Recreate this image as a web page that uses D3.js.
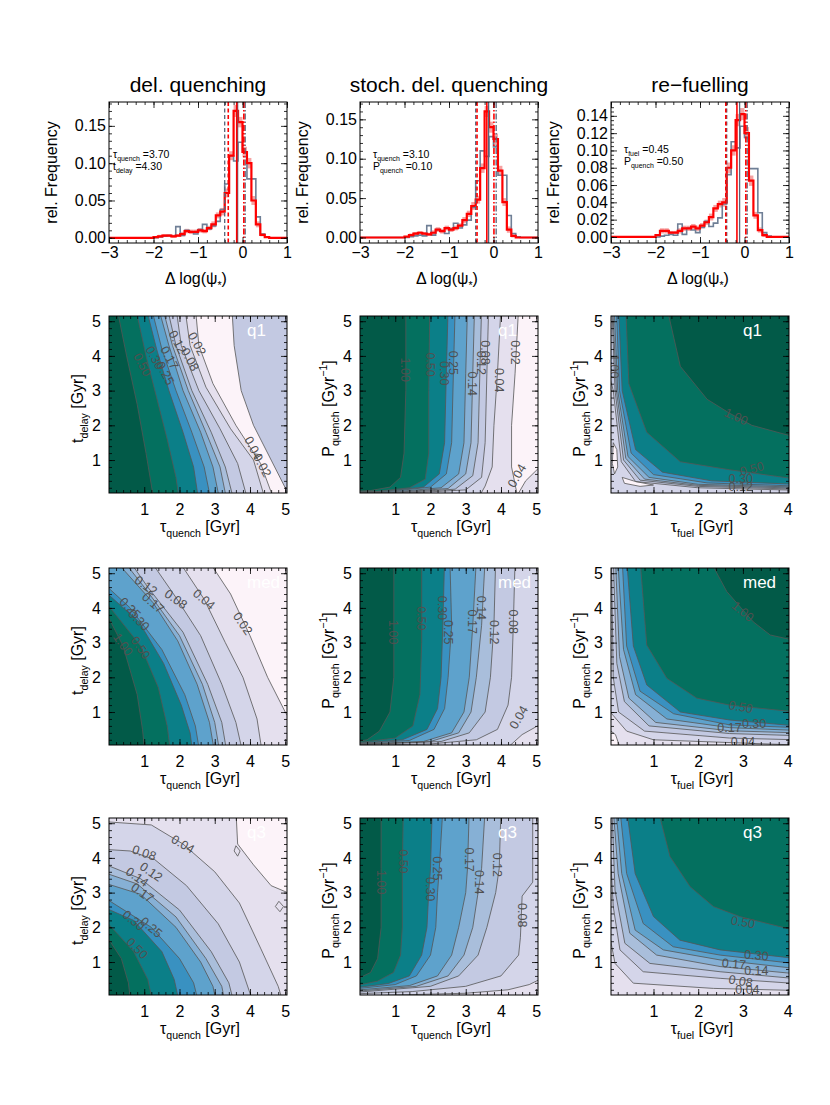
<!DOCTYPE html>
<html>
<head>
<meta charset="utf-8">
<script src="https://cdn.jsdelivr.net/npm/d3@7"></script>
<style>
body { margin: 0; background: #fff; }
text { font-family: "Liberation Sans", Arial, Helvetica, sans-serif; }
</style>
</head>
<body>
<div id="chart"></div>
<script>
var width = 830, height = 1105;

// contour levels and the band colours (lowest band first)
var levels = [0.02, 0.04, 0.08, 0.12, 0.14, 0.17, 0.25, 0.30, 0.50, 1.00];
var bandColors = ["#fcf3f9", "#e5e0ee", "#d4d5e9", "#c3c9e2", "#a9bedb", "#86b0d5",
    "#5ea2cc", "#3991c1", "#0b7f88", "#04705f", "#025a48"];

// histograms: left bin edges, bin width 0.1
var binLeft = [-2.1, -2.0, -1.9, -1.8, -1.7, -1.6, -1.5, -1.4, -1.3, -1.2, -1.1, -1.0, -0.9, -0.8,
    -0.7, -0.6, -0.5, -0.4, -0.3, -0.2, -0.1, 0.0, 0.1, 0.2, 0.3, 0.4, 0.5, 0.6];
var obsFreq = [0, 0, 0.001, 0.002, 0.003, 0.002, 0.015, 0.003, 0.010, 0.008, 0.005, 0.011, 0.018, 0.012,
    0.016, 0.022, 0.038, 0.072, 0.110, 0.103, 0.128, 0.115, 0.079, 0.079, 0.028, 0.005, 0.001, 0];
var delFreq = [0, 0.001, 0.002, 0.003, 0.003, 0.002, 0.003, 0.005, 0.009, 0.008, 0.008, 0.010, 0.009, 0.013,
    0.018, 0.030, 0.035, 0.060, 0.110, 0.170, 0.155, 0.115, 0.100, 0.050, 0.018, 0.004, 0.001, 0];
var delErr = [0, 0.001, 0.002, 0.002, 0.002, 0.002, 0.002, 0.003, 0.003, 0.003, 0.003, 0.003, 0.003, 0.003,
    0.004, 0.004, 0.005, 0.006, 0.006, 0.008, 0.007, 0.007, 0.007, 0.006, 0.004, 0.002, 0.001, 0];
var stoFreq = [0, 0.001, 0.003, 0.005, 0.006, 0.005, 0.004, 0.006, 0.010, 0.008, 0.012, 0.010, 0.012, 0.015,
    0.022, 0.030, 0.040, 0.048, 0.088, 0.160, 0.140, 0.125, 0.085, 0.045, 0.010, 0.002, 0, 0];
var stoErr = [0, 0.001, 0.002, 0.002, 0.002, 0.002, 0.002, 0.003, 0.003, 0.003, 0.003, 0.003, 0.003, 0.003,
    0.004, 0.004, 0.005, 0.005, 0.006, 0.007, 0.007, 0.007, 0.006, 0.005, 0.004, 0.002, 0, 0];
var refFreq = [0, 0.002, 0.007, 0.007, 0.005, 0.005, 0.007, 0.010, 0.010, 0.012, 0.010, 0.013, 0.017, 0.023,
    0.033, 0.038, 0.040, 0.080, 0.100, 0.135, 0.142, 0.120, 0.065, 0.025, 0.008, 0.002, 0, 0];
var refErr = [0, 0.001, 0.003, 0.003, 0.002, 0.002, 0.003, 0.003, 0.003, 0.003, 0.003, 0.003, 0.003, 0.004,
    0.004, 0.004, 0.005, 0.006, 0.006, 0.007, 0.007, 0.007, 0.006, 0.004, 0.003, 0.002, 0, 0];

// 16th percentile, median, 84th percentile
var obsMarks = [-0.40, -0.11, 0.06];
var delMarks = [-0.32, -0.13, 0.03];
var stoMarks = [-0.37, -0.15, 0.01];
var refMarks = [-0.42, -0.17, 0.03];

// contour lines [level, points], points run across the panel
var cDelQ1 = [
    [0.02, [[2.45, 5.4], [2.55, 4.3], [2.95, 3.2], [3.6, 2.0], [4.3, 0.9], [4.7, -0.2]]],
    [0.04, [[2.15, 5.4], [2.3, 4.3], [2.75, 3.1], [3.45, 1.9], [4.1, 1.0], [4.45, -0.2]]],
    [0.08, [[1.9, 5.4], [2.05, 4.3], [2.55, 3.0], [3.15, 1.9], [3.65, 0.9], [3.95, -0.2]]],
    [0.12, [[1.65, 5.4], [1.9, 4.3], [2.35, 3.0], [2.9, 1.8], [3.3, 0.8], [3.55, -0.2]]],
    [0.14, [[1.52, 5.4], [1.8, 4.3], [2.25, 3.0], [2.75, 1.8], [3.15, 0.8], [3.35, -0.2]]],
    [0.17, [[1.4, 5.4], [1.7, 4.3], [2.1, 3.0], [2.6, 1.8], [2.95, 0.8], [3.15, -0.2]]],
    [0.25, [[1.2, 5.4], [1.5, 4.2], [1.9, 3.0], [2.35, 1.8], [2.7, 0.8], [2.9, -0.2]]],
    [0.30, [[1.05, 5.4], [1.35, 4.2], [1.7, 3.0], [2.1, 1.8], [2.4, 0.8], [2.55, -0.2]]],
    [0.50, [[0.75, 5.4], [1.05, 4.0], [1.35, 2.8], [1.65, 1.6], [1.9, 0.5], [2.0, -0.2]]],
    [1.00, [[0.22, 5.4], [0.5, 4.0], [0.8, 2.6], [1.05, 1.2], [1.28, -0.2]]]
];
var xDelQ1 = [[3, [[3.45, 6], [3.55, 4.3], [3.75, 3.0], [4.1, 2.0], [4.6, 1.0], [5.0, 0.2], [5.2, -1], [6, -1], [6, 6]]]];
var lDelQ1 = [["0.50", 0.95, 3.75, 62], ["0.30", 1.3, 3.95, 62], ["0.25", 1.6, 3.5, 62], ["0.17", 1.72, 3.95, 62],
    ["0.12", 1.95, 4.4, 62], ["0.08", 2.3, 3.9, 62], ["0.02", 2.5, 4.35, 62], ["0.04", 4.1, 1.35, 62], ["0.02", 4.35, 0.85, 62]];

var cDelMed = [
    [0.02, [[2.8, 5.4], [3.45, 4.4], [4.0, 3.2], [4.5, 2.0], [5.0, 1.0], [5.3, 0.5]]],
    [0.04, [[1.95, 5.4], [2.7, 4.25], [3.3, 3.0], [3.8, 2.0], [4.2, 0.8], [4.35, -0.2]]],
    [0.08, [[1.15, 5.4], [1.9, 4.3], [2.6, 3.2], [3.2, 1.8], [3.6, 0.7], [3.8, -0.2]]],
    [0.12, [[0.55, 5.4], [1.1, 4.6], [2.1, 3.3], [2.8, 1.8], [3.2, 0.7], [3.35, -0.2]]],
    [0.14, [[0.38, 5.4], [1.15, 4.4], [2.0, 3.2], [2.65, 1.8], [3.0, 0.7], [3.15, -0.2]]],
    [0.17, [[0.15, 5.4], [1.25, 4.15], [1.95, 3.05], [2.5, 1.8], [2.85, 0.7], [3.0, -0.2]]],
    [0.25, [[-0.2, 4.75], [0.6, 4.0], [1.5, 2.8], [2.15, 1.5], [2.45, 0.6], [2.58, -0.2]]],
    [0.30, [[-0.2, 4.55], [0.85, 3.6], [1.55, 2.4], [2.05, 1.2], [2.3, 0.4], [2.38, -0.2]]],
    [0.50, [[-0.2, 4.3], [0.9, 2.9], [1.4, 1.7], [1.65, 0.6], [1.75, -0.2]]],
    [1.00, [[-0.2, 4.1], [0.4, 2.9], [0.8, 1.5], [0.95, 0.5], [1.02, -0.2]]]
];
var lDelMed = [["1.00", 0.4, 2.95, 55], ["0.50", 0.9, 2.85, 55], ["0.30", 0.85, 3.65, 45], ["0.25", 0.6, 4.0, 45],
    ["0.17", 1.25, 4.15, 40], ["0.12", 1.05, 4.65, 35], ["0.08", 1.9, 4.25, 35], ["0.04", 2.7, 4.25, 40], ["0.02", 3.8, 3.55, 55]];

var cDelQ3 = [
    [0.02, [[3.6, 5.4], [3.65, 4.4], [4.1, 3.8], [4.6, 3.2], [5.3, 2.9]]],
    [0.04, [[-0.2, 5.05], [1.2, 4.95], [2.1, 4.4], [3.0, 3.6], [3.7, 2.7], [4.3, 1.4], [4.8, 0.3], [4.95, -0.2]]],
    [0.08, [[-0.2, 4.25], [0.6, 4.2], [1.3, 3.95], [2.2, 3.2], [3.1, 2.1], [3.7, 1.0], [4.0, 0.1], [4.05, -0.2]]],
    [0.12, [[-0.2, 3.85], [0.9, 3.4], [2.0, 2.5], [2.9, 1.3], [3.4, 0.4], [3.55, -0.2]]],
    [0.14, [[-0.2, 3.6], [0.8, 3.25], [1.9, 2.3], [2.75, 1.1], [3.2, 0.3], [3.3, -0.2]]],
    [0.17, [[-0.2, 3.3], [0.9, 2.95], [1.9, 2.0], [2.6, 1.0], [2.95, 0.3], [3.05, -0.2]]],
    [0.25, [[-0.2, 2.9], [1.2, 2.0], [2.0, 1.1], [2.4, 0.4], [2.55, -0.2]]],
    [0.30, [[-0.2, 2.6], [0.7, 2.2], [1.5, 1.3], [1.85, 0.5], [2.0, -0.2]]],
    [0.50, [[-0.2, 2.3], [0.7, 1.3], [1.1, 0.5], [1.25, -0.2]]],
    [1.00, [[-0.2, 1.95], [0.35, 1.1], [0.55, 0.4], [0.62, -0.2]]]
];
var xDelQ3 = [[1, [[3.6, 4.35], [3.72, 4.2], [3.65, 4.05], [3.55, 4.2]]], [1, [[4.82, 2.75], [4.95, 2.6], [4.85, 2.45], [4.72, 2.6]]]];
var lDelQ3 = [["0.04", 2.1, 4.4, 30], ["0.08", 1.0, 4.15, 20], ["0.12", 1.2, 3.6, 35], ["0.14", 0.8, 3.45, 35],
    ["0.17", 0.95, 3.0, 35], ["0.30", 0.7, 2.2, 40], ["0.25", 1.2, 2.0, 40], ["0.50", 0.8, 1.4, 45]];

var cStoQ1 = [
    [0.02, [[4.5, 5.4], [4.4, 3.5], [4.3, 2.0], [4.3, 0.8], [4.4, 0.3], [4.5, -0.2]]],
    [0.04, [[4.0, 5.4], [3.9, 3.5], [3.8, 2.0], [3.75, 0.8], [3.55, 0.25], [3.3, -0.2]]],
    [0.08, [[3.65, 5.4], [3.6, 3.5], [3.55, 1.5], [3.45, 0.5], [3.0, 0.14], [1.2, 0.04], [-0.2, 0.02]]],
    [0.12, [[3.45, 5.4], [3.4, 3.5], [3.35, 1.5], [3.2, 0.55], [2.7, 0.16], [1.0, 0.05], [-0.2, 0.03]]],
    [0.14, [[3.25, 5.4], [3.2, 3.5], [3.15, 1.5], [3.0, 0.6], [2.5, 0.18], [0.9, 0.06], [-0.2, 0.04]]],
    [0.17, [[3.05, 5.4], [3.0, 3.5], [2.95, 1.5], [2.8, 0.6], [2.3, 0.2], [0.8, 0.07], [-0.2, 0.05]]],
    [0.25, [[2.7, 5.4], [2.65, 3.5], [2.6, 1.5], [2.45, 0.6], [2.0, 0.22], [0.7, 0.08], [-0.2, 0.06]]],
    [0.30, [[2.5, 5.4], [2.45, 3.5], [2.4, 1.5], [2.25, 0.6], [1.8, 0.22], [0.6, 0.09], [-0.2, 0.07]]],
    [0.50, [[1.98, 5.4], [1.95, 3.0], [1.95, 1.2], [1.85, 0.45], [1.4, 0.2], [0.5, 0.1], [-0.2, 0.08]]],
    [1.00, [[1.3, 5.4], [1.3, 3.0], [1.25, 1.2], [1.15, 0.5], [0.85, 0.22], [0.3, 0.12], [-0.2, 0.1]]]
];
var xStoQ1 = [[1, [[3.9, -1], [4.7, 0.4], [5.2, 0.9], [6, 1.2], [6, -1]]]];
var lStoQ1 = [["1.00", 1.28, 3.6, 90], ["0.50", 2.0, 3.75, 90], ["0.30", 2.4, 3.5, 90], ["0.25", 2.65, 3.8, 90],
    ["0.14", 3.2, 3.2, 90], ["0.12", 3.45, 3.8, 90], ["0.08", 3.57, 4.1, 90], ["0.04", 3.95, 3.3, 90],
    ["0.02", 4.42, 4.1, 90], ["0.04", 4.45, 0.55, -60]];

var cStoMed = [
    [0.04, [[5.3, 0.75], [4.6, 0.35], [4.0, -0.2]]],
    [0.08, [[4.4, 5.4], [4.35, 3.5], [4.3, 2.0], [4.2, 1.2], [3.9, 0.5], [3.3, 0.2], [2.0, 0.08], [-0.2, 0.04]]],
    [0.12, [[3.85, 5.4], [3.8, 3.5], [3.7, 2.0], [3.55, 1.0], [3.1, 0.4], [2.3, 0.15], [-0.2, 0.05]]],
    [0.14, [[3.55, 5.4], [3.45, 3.5], [3.3, 2.0], [3.15, 1.0], [2.8, 0.4], [2.0, 0.15], [-0.2, 0.06]]],
    [0.17, [[3.3, 5.4], [3.2, 3.5], [3.1, 2.0], [2.95, 1.0], [2.6, 0.4], [1.8, 0.15], [-0.2, 0.07]]],
    [0.25, [[2.55, 5.4], [2.6, 3.5], [2.5, 2.0], [2.4, 1.1], [2.1, 0.5], [1.4, 0.18], [-0.2, 0.08]]],
    [0.30, [[2.4, 5.4], [2.35, 3.5], [2.3, 2.0], [2.2, 1.1], [1.9, 0.5], [1.2, 0.2], [-0.2, 0.09]]],
    [0.50, [[1.75, 5.4], [1.75, 3.0], [1.7, 1.5], [1.5, 0.6], [1.0, 0.25], [-0.2, 0.1]]],
    [1.00, [[0.96, 5.4], [0.96, 2.0], [0.85, 1.0], [0.55, 0.45], [0.2, 0.2], [-0.2, 0.12]]]
];
var lStoMed = [["1.00", 0.96, 3.3, 90], ["0.50", 1.75, 3.7, 90], ["0.30", 2.35, 4.0, 90], ["0.25", 2.5, 3.3, 90],
    ["0.17", 3.2, 3.6, 90], ["0.14", 3.45, 4.0, 90], ["0.12", 3.8, 3.3, 90], ["0.08", 4.35, 3.6, 90], ["0.04", 4.5, 0.85, -60]];

var cStoQ3 = [
    [0.04, [[5.3, 0.6], [4.8, 0.35], [4.2, 0.2], [3.0, 0.1], [1.0, 0.05], [-0.2, 0.0]]],
    [0.08, [[4.9, 5.4], [4.9, 3.3], [4.6, 2.9], [4.55, 1.7], [4.5, 1.2], [4.0, 0.6], [3.0, 0.3], [1.5, 0.15], [-0.2, 0.08]]],
    [0.12, [[4.0, 5.4], [3.95, 3.7], [3.85, 3.0], [3.6, 2.0], [3.35, 1.2], [2.8, 0.6], [2.0, 0.3], [-0.2, 0.12]]],
    [0.14, [[3.55, 5.4], [3.45, 3.7], [3.35, 3.0], [3.2, 2.0], [2.95, 1.2], [2.5, 0.6], [1.6, 0.3], [-0.2, 0.15]]],
    [0.17, [[3.1, 5.4], [3.05, 3.7], [3.0, 3.0], [2.8, 2.0], [2.6, 1.2], [2.2, 0.6], [1.4, 0.32], [-0.2, 0.18]]],
    [0.25, [[2.35, 5.4], [2.25, 3.7], [2.2, 3.0], [2.15, 2.0], [2.0, 1.2], [1.6, 0.6], [1.0, 0.35], [-0.2, 0.22]]],
    [0.30, [[2.05, 5.4], [2.0, 3.7], [1.95, 3.0], [1.9, 2.0], [1.75, 1.2], [1.4, 0.6], [0.8, 0.38], [-0.2, 0.25]]],
    [0.50, [[1.23, 5.4], [1.2, 3.7], [1.2, 2.0], [1.15, 1.2], [0.95, 0.7], [0.5, 0.45], [-0.2, 0.3]]],
    [1.00, [[0.6, 5.4], [0.6, 3.7], [0.6, 2.0], [0.5, 1.1], [0.3, 0.7], [-0.2, 0.45]]]
];
var lStoQ3 = [["1.00", 0.6, 3.3, 90], ["0.50", 1.23, 3.9, 90], ["0.30", 2.0, 3.1, 90], ["0.25", 2.2, 3.7, 90],
    ["0.17", 3.1, 3.95, 90], ["0.14", 3.4, 3.3, 90], ["0.12", 3.9, 3.8, 90], ["0.08", 4.6, 2.35, 90]];

var cRefQ1 = [
    [0.08, [[-0.2, 4.5], [0.1, 3.0], [0.28, 0.95], [0.6, 0.38], [2.0, 0.2], [4.2, 0.13]]],
    [0.12, [[0.07, 5.4], [0.14, 3.0], [0.33, 1.0], [0.7, 0.42], [2.0, 0.24], [4.2, 0.16]]],
    [0.14, [[0.09, 5.4], [0.17, 3.0], [0.38, 1.05], [0.8, 0.45], [2.0, 0.27], [4.2, 0.19]]],
    [0.17, [[0.12, 5.4], [0.2, 3.0], [0.43, 1.1], [0.9, 0.5], [2.0, 0.3], [4.2, 0.22]]],
    [0.25, [[0.17, 5.4], [0.24, 3.0], [0.5, 1.2], [1.0, 0.58], [2.2, 0.34], [4.2, 0.25]]],
    [0.30, [[0.22, 5.4], [0.3, 3.0], [0.6, 1.3], [1.2, 0.65], [2.3, 0.4], [4.2, 0.3]]],
    [0.50, [[0.38, 5.4], [0.45, 3.2], [0.85, 1.8], [1.6, 0.95], [2.7, 0.72], [4.2, 0.45]]],
    [1.00, [[1.3, 5.4], [1.6, 3.7], [2.2, 2.75], [2.7, 2.35], [3.2, 2.0], [4.2, 1.65]]]
];
var xRefQ1 = [[0, [[0.1, 1.5], [0.18, 1.3], [0.2, 0.8], [0.13, 0.6], [0.08, 0.9]]],
    [0, [[0.3, 0.5], [0.6, 0.38], [1.0, 0.28], [0.7, 0.24], [0.35, 0.33]]]];
var lRefQ1 = [["1.00", 2.85, 2.25, 25], ["0.50", 3.2, 0.75, -15], ["1.00", 0.12, 3.7, 90], ["0.30", 2.95, 0.45, 0],
    ["0.12", 2.95, 0.22, 0]];

var cRefMed = [
    [0.02, [[-0.2, 0.7], [0.15, 0.35], [0.3, -0.2]]],
    [0.04, [[-0.2, 1.3], [0.1, 0.9], [0.4, 0.45], [1.0, 0.2], [4.2, 0.05]]],
    [0.08, [[0.06, 5.4], [0.1, 2.0], [0.22, 1.0], [0.8, 0.45], [2.7, 0.25], [4.2, 0.2]]],
    [0.12, [[0.1, 5.4], [0.18, 2.4], [0.35, 1.3], [0.9, 0.6], [2.7, 0.38], [4.2, 0.32]]],
    [0.14, [[0.15, 5.4], [0.24, 2.6], [0.45, 1.4], [1.05, 0.7], [2.7, 0.46], [4.2, 0.4]]],
    [0.17, [[0.2, 5.4], [0.33, 2.8], [0.6, 1.5], [1.3, 0.8], [2.7, 0.55], [4.2, 0.47]]],
    [0.25, [[0.3, 5.4], [0.4, 2.9], [0.7, 1.6], [1.45, 0.95], [2.7, 0.63], [4.2, 0.55]]],
    [0.30, [[0.4, 5.4], [0.55, 2.9], [0.85, 1.78], [1.6, 1.0], [2.7, 0.77], [4.2, 0.6]]],
    [0.50, [[0.7, 5.4], [0.85, 2.93], [1.3, 1.97], [1.97, 1.4], [2.7, 1.2], [4.2, 1.0]]],
    [1.00, [[2.25, 5.4], [2.64, 4.47], [3.23, 3.6], [3.61, 3.22], [4.2, 3.05]]]
];
var lRefMed = [["1.00", 3.0, 3.9, 40], ["0.50", 2.95, 1.15, 10], ["0.30", 3.25, 0.68, 0], ["0.17", 2.7, 0.55, 0],
    ["0.04", 3.0, 0.15, 0]];

var cRefQ3 = [
    [0.04, [[-0.2, 1.9], [0.04, 1.63], [0.14, 0.96], [0.55, 0.39], [2.34, 0.24], [4.2, 0.18]]],
    [0.08, [[-0.2, 4.3], [0.04, 4.04], [0.1, 2.6], [0.25, 1.35], [0.77, 0.72], [2.49, 0.53], [4.2, 0.38]]],
    [0.12, [[0.07, 5.4], [0.14, 3.07], [0.36, 1.54], [0.92, 0.96], [2.49, 0.72], [4.2, 0.52]]],
    [0.14, [[0.1, 5.4], [0.21, 3.55], [0.47, 1.83], [1.07, 1.2], [2.49, 0.87], [4.2, 0.66]]],
    [0.17, [[0.16, 5.4], [0.29, 3.55], [0.59, 1.92], [1.22, 1.35], [2.49, 1.06], [4.2, 0.81]]],
    [0.25, [[0.25, 5.4], [0.4, 3.55], [0.77, 2.11], [1.44, 1.44], [2.49, 1.2], [4.2, 0.95]]],
    [0.30, [[0.4, 5.4], [0.59, 3.55], [1.0, 2.31], [1.59, 1.63], [2.49, 1.35], [4.2, 1.1]]],
    [0.50, [[1.1, 5.4], [1.37, 4.04], [1.82, 3.17], [2.34, 2.6], [2.93, 2.31], [4.2, 1.9]]],
    [1.00, [[3.85, 5.4], [4.3, 4.85]]]
];
var lRefQ3 = [["0.50", 3.0, 2.15, 10], ["0.30", 3.3, 1.2, 5], ["0.17", 2.8, 0.95, 5], ["0.14", 3.3, 0.75, 0],
    ["0.08", 2.95, 0.45, 10], ["0.04", 3.1, 0.2, 0]];

var svg = d3.select("#chart").append("svg")
    .attr("width", width)
    .attr("height", height);

var colLeft = [109, 360, 611], panelW = 178;
var histTop = 102, histH = 141;
var rowTop = [316, 568, 818], panelH = 177;
var xDoms = [[0, 5.05], [0, 5.05], [0.05, 4.03]];
var lineColor = "#555";
// corners (outside the panel) used to close the high-value side of each contour
var closing = [[[6, -1], [-1, -1], [-1, 6]], [[-1, -1], [-1, 6], [6, 6]], [[6, -1], [6, 6], [-1, 6]]];

function noLabel() { return ""; }

function addTicks(x, y, o) {
    var L = x.range()[0], R = x.range()[1], B = y.range()[0], T = y.range()[1];
    var ax = svg.append("g");
    function strip(s) { s.select(".domain").remove(); }
    ax.append("g").attr("transform", "translate(0," + B + ")")
        .call(d3.axisBottom(x).tickValues(o.xMinor).tickSize(-3).tickFormat(noLabel)).call(strip);
    ax.append("g").attr("transform", "translate(0," + B + ")")
        .call(d3.axisBottom(x).tickValues(o.xMajor).tickSize(-6).tickPadding(o.xPad).tickFormat(o.xFmt)).call(strip);
    ax.append("g").attr("transform", "translate(0," + T + ")")
        .call(d3.axisTop(x).tickValues(o.xMinor).tickSize(-3).tickFormat(noLabel)).call(strip);
    ax.append("g").attr("transform", "translate(0," + T + ")")
        .call(d3.axisTop(x).tickValues(o.xMajor).tickSize(-6).tickFormat(noLabel)).call(strip);
    ax.append("g").attr("transform", "translate(" + L + ",0)")
        .call(d3.axisLeft(y).tickValues(o.yMinor).tickSize(-3).tickFormat(noLabel)).call(strip);
    ax.append("g").attr("transform", "translate(" + L + ",0)")
        .call(d3.axisLeft(y).tickValues(o.yMajor).tickSize(-6).tickPadding(o.yPad).tickFormat(o.yFmt)).call(strip);
    ax.append("g").attr("transform", "translate(" + R + ",0)")
        .call(d3.axisRight(y).tickValues(o.yMinor).tickSize(-3).tickFormat(noLabel)).call(strip);
    ax.append("g").attr("transform", "translate(" + R + ",0)")
        .call(d3.axisRight(y).tickValues(o.yMajor).tickSize(-6).tickFormat(noLabel)).call(strip);
    ax.selectAll("text").style("font-size", "16px").attr("fill", "#000");
    ax.selectAll("line").attr("stroke", "#000").attr("stroke-width", 0.8);
    svg.append("rect").attr("x", L).attr("y", T).attr("width", R - L).attr("height", B - T)
        .attr("fill", "none").attr("stroke", "#000").attr("stroke-width", 1);
}

// text with sub/superscripts: parts = [[text, ""|"sub"|"sup"], ...]
function richText(t, parts, size) {
    var shift = 0;
    parts.forEach(function (p) {
        var s = p[1] === "sub" ? 0.3 * size : (p[1] === "sup" ? -0.42 * size : 0);
        t.append("tspan").attr("dy", s - shift)
            .style("font-size", (p[1] ? size * 0.66 : size) + "px")
            .text(p[0]);
        shift = s;
    });
    return t;
}

function drawHist(col, title, freq, err, marks, yMax, yMajor, yMinor, note) {
    var L = colLeft[col], T = histTop;
    var x = d3.scaleLinear().domain([-3, 1]).range([L, L + panelW]);
    var y = d3.scaleLinear().domain([-0.007, yMax]).range([T + histH, T]);
    var binW = 0.1;
    var clipId = "hclip" + col;
    svg.append("clipPath").attr("id", clipId).append("rect")
        .attr("x", L).attr("y", T).attr("width", panelW).attr("height", histH);
    var g = svg.append("g").attr("clip-path", "url(#" + clipId + ")");

    g.selectAll(".err").data(binLeft).enter().append("rect")
        .attr("x", function (d) { return x(d); })
        .attr("width", x(binW) - x(0))
        .attr("y", function (d, i) { return y(freq[i] + err[i]); })
        .attr("height", function (d, i) { return y(freq[i] - err[i]) - y(freq[i] + err[i]); })
        .attr("fill", "#f5a3a3");

    function steps(v) {
        var pts = [[-3, 0]];
        binLeft.forEach(function (b, i) { pts.push([b, v[i]]); });
        pts.push([binLeft[binLeft.length - 1] + binW, 0]);
        pts.push([1, 0]);
        return pts;
    }
    var line = d3.line().curve(d3.curveStepAfter)
        .x(function (d) { return x(d[0]); })
        .y(function (d) { return y(d[1]); });
    g.append("path").attr("d", line(steps(obsFreq))).attr("fill", "none")
        .attr("stroke", "#6f7f96").attr("stroke-width", 1.6);
    g.append("path").attr("d", line(steps(freq))).attr("fill", "none")
        .attr("stroke", "#ff0000").attr("stroke-width", 2.2);

    var dashes = ["4,2.5", null, "6,2,1.5,2"];
    obsMarks.forEach(function (m, i) {
        g.append("line").attr("x1", x(m)).attr("x2", x(m)).attr("y1", T).attr("y2", T + histH)
            .attr("stroke", "#56657a").attr("stroke-width", 1.3).attr("stroke-dasharray", dashes[i]);
    });
    marks.forEach(function (m, i) {
        g.append("line").attr("x1", x(m)).attr("x2", x(m)).attr("y1", T).attr("y2", T + histH)
            .attr("stroke", "#ff0000").attr("stroke-width", 1.6).attr("stroke-dasharray", dashes[i]);
    });

    note.forEach(function (n) {
        richText(svg.append("text").attr("x", L + n[0]).attr("y", T + n[1]).attr("fill", "#000"), n[2], 10.5);
    });

    addTicks(x, y, {
        xMajor: [-3, -2, -1, 0, 1], xMinor: d3.range(-3, 1.001, 0.2), xPad: 4, xFmt: d3.format("d"),
        yMajor: yMajor, yMinor: yMinor, yPad: 3, yFmt: d3.format(".2f")
    });

    svg.append("text").attr("x", L + panelW / 2).attr("y", 92).attr("text-anchor", "middle")
        .style("font-size", "21px").text(title);
    richText(svg.append("text").attr("x", L + panelW / 2 - 2).attr("y", 284).attr("text-anchor", "middle"),
        [["\u0394 log(\u03c8", ""], ["*", "sub"], [")", ""]], 16);
    svg.append("text").attr("transform", "translate(" + (L - 52) + "," + (T + histH / 2) + ") rotate(-90)")
        .attr("text-anchor", "middle").style("font-size", "16px").text("rel. Frequency");
}

function drawContour(col, row, lines, base, extras, labels, tag) {
    var L = colLeft[col], T = rowTop[row];
    var x = d3.scaleLinear().domain(xDoms[col]).range([L, L + panelW]);
    var y = d3.scaleLinear().domain([0.05, 5.15]).range([T + panelH, T]);
    var clipId = "clip" + col + row;
    svg.append("clipPath").attr("id", clipId).append("rect")
        .attr("x", L).attr("y", T).attr("width", panelW).attr("height", panelH);
    var g = svg.append("g").attr("clip-path", "url(#" + clipId + ")");
    var path = d3.line()
        .x(function (d) { return x(d[0]); })
        .y(function (d) { return y(d[1]); });

    g.append("rect").attr("x", L).attr("y", T).attr("width", panelW).attr("height", panelH)
        .attr("fill", bandColors[base]);
    lines.forEach(function (c) {
        var k = levels.indexOf(c[0]);
        g.append("path").attr("d", path(c[1].concat(closing[col])) + "Z")
            .attr("fill", bandColors[k + 1]);
    });
    extras.forEach(function (e) {
        g.append("path").attr("d", path(e[1]) + "Z").attr("fill", bandColors[e[0]])
            .attr("stroke", lineColor).attr("stroke-width", 0.8);
    });
    lines.forEach(function (c) {
        g.append("path").attr("d", path(c[1])).attr("fill", "none")
            .attr("stroke", lineColor).attr("stroke-width", 0.8);
    });
    labels.forEach(function (l) {
        g.append("text")
            .attr("transform", "translate(" + x(l[1]) + "," + y(l[2]) + ") rotate(" + l[3] + ")")
            .attr("text-anchor", "middle").attr("dy", "0.35em")
            .style("font-size", "12.5px").attr("fill", "#505050").text(l[0]);
    });
    svg.append("text").attr("x", L + (col === 2 ? 132 : 138)).attr("y", T + 20)
        .style("font-size", "17px").attr("fill", "#fff").text(tag);

    var xMajor = col === 2 ? [1, 2, 3, 4] : [1, 2, 3, 4, 5];
    addTicks(x, y, {
        xMajor: xMajor, xMinor: d3.range(0.2, xDoms[col][1], 0.2), xPad: 11, xFmt: d3.format("d"),
        yMajor: [1, 2, 3, 4, 5], yMinor: d3.range(0.2, 5.15, 0.2), yPad: 8, yFmt: d3.format("d")
    });

    var xl = col === 2 ? [["\u03c4", ""], ["fuel", "sub"], [" [Gyr]", ""]]
        : [["\u03c4", ""], ["quench", "sub"], [" [Gyr]", ""]];
    var yl = col === 0 ? [["t", ""], ["delay", "sub"], [" [Gyr]", ""]]
        : [["P", ""], ["quench", "sub"], [" [Gyr", ""], ["\u22121", "sup"], ["]", ""]];
    richText(svg.append("text").attr("x", L + panelW / 2 + 2).attr("y", T + panelH + 39)
        .attr("text-anchor", "middle"), xl, 16);
    richText(svg.append("text")
        .attr("transform", "translate(" + (L - 26) + "," + (T + panelH / 2 + 4) + ") rotate(-90)")
        .attr("text-anchor", "middle"), yl, 16);
}

drawHist(0, "del. quenching", delFreq, delErr, delMarks, 0.182,
    [0, 0.05, 0.10, 0.15], d3.range(0, 0.181, 0.01),
    [[4, 56, [["\u03c4", ""], ["quench", "sub"], [" =3.70", ""]]], [4, 68, [["t", ""], ["delay", "sub"], [" =4.30", ""]]]]);
drawHist(1, "stoch. del. quenching", stoFreq, stoErr, stoMarks, 0.172,
    [0, 0.05, 0.10, 0.15], d3.range(0, 0.171, 0.01),
    [[13, 56, [["\u03c4", ""], ["quench", "sub"], [" =3.10", ""]]], [13, 68, [["P", ""], ["quench", "sub"], [" =0.10", ""]]]]);
drawHist(2, "re\u2212fuelling", refFreq, refErr, refMarks, 0.156,
    [0, 0.02, 0.04, 0.06, 0.08, 0.10, 0.12, 0.14], d3.range(0, 0.155, 0.005),
    [[13, 51, [["\u03c4", ""], ["fuel", "sub"], [" =0.45", ""]]], [13, 63, [["P", ""], ["quench", "sub"], [" =0.50", ""]]]]);

drawContour(0, 0, cDelQ1, 0, xDelQ1, lDelQ1, "q1");
drawContour(0, 1, cDelMed, 0, [], lDelMed, "med");
drawContour(0, 2, cDelQ3, 0, xDelQ3, lDelQ3, "q3");
drawContour(1, 0, cStoQ1, 0, xStoQ1, lStoQ1, "q1");
drawContour(1, 1, cStoMed, 1, [], lStoMed, "med");
drawContour(1, 2, cStoQ3, 1, [], lStoQ3, "q3");
drawContour(2, 0, cRefQ1, 2, xRefQ1, lRefQ1, "q1");
drawContour(2, 1, cRefMed, 0, [], lRefMed, "med");
drawContour(2, 2, cRefQ3, 1, [], lRefQ3, "q3");
</script>
</body>
</html>
